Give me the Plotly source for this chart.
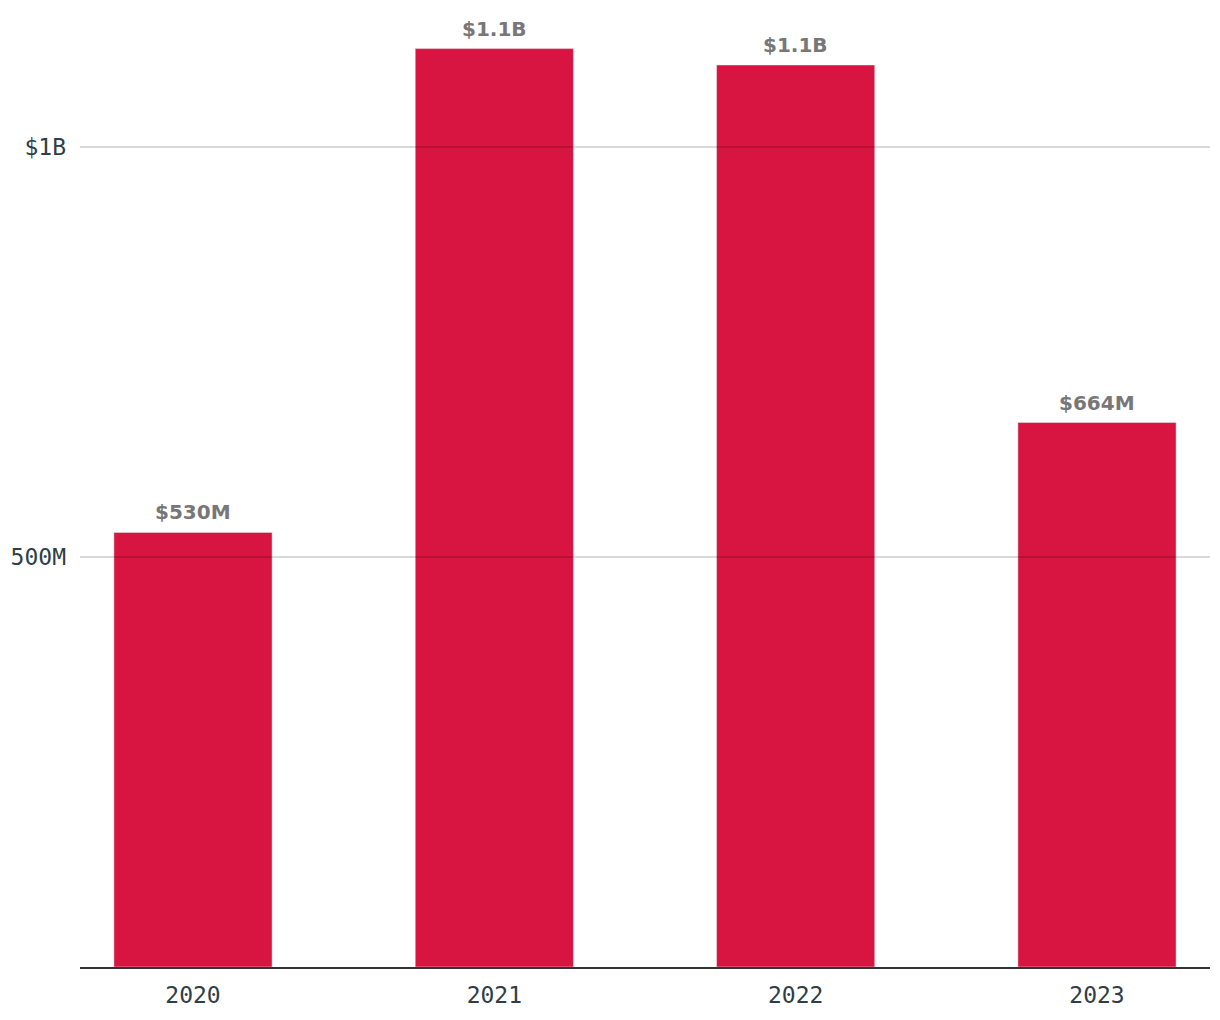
import plotly.graph_objects as go

years = ["2020", "2021", "2022", "2023"]
values = [530e6, 1.12e9, 1.1e9, 664e6]
labels = ["$530M", "$1.1B", "$1.1B", "$664M"]
tick_vals = [500e6, 1e9]
tick_text = ["500M", "$1B"]

fig = go.Figure()
fig.add_trace(go.Bar(
    x=years, y=values,
    marker_color="#D81540", width=0.525, cliponaxis=False,
    hoverinfo="skip",
))
for i, (v, t) in enumerate(zip(values, labels)):
    fig.add_annotation(x=i, y=v, xref="x", yref="y", text=t, showarrow=False,
                       yanchor="bottom", yshift=6,
                       font=dict(family="DejaVu Sans", size=20, color="#777777", weight="bold"))
for v in tick_vals:
    fig.add_shape(type="line", xref="paper", x0=0, x1=1, yref="y", y0=v, y1=v,
                  line=dict(color="rgba(0,0,0,0.2)", width=1.5), layer="above")

fig.update_layout(
    width=1212, height=1012,
    margin=dict(l=72, r=10, t=12, b=53, autoexpand=False),
    plot_bgcolor="white", paper_bgcolor="white",
    showlegend=False,
)
fig.update_xaxes(
    type="category", range=[-0.375, 3.375], automargin=False,
    showline=True, linecolor="#333333", linewidth=2,
    showgrid=False, ticks="",
    tickfont=dict(family="DejaVu Sans Mono", size=23, color="#2F3E46"),
    ticklabelstandoff=6,
)
fig.update_yaxes(
    range=[0, 947 / 410 * 500e6], automargin=False,
    tickvals=tick_vals, ticktext=tick_text,
    showgrid=False, zeroline=False, ticks="",
    tickfont=dict(family="DejaVu Sans Mono", size=23, color="#2F3E46"),
    ticklabelstandoff=13,
)
fig.write_html("out.html")
